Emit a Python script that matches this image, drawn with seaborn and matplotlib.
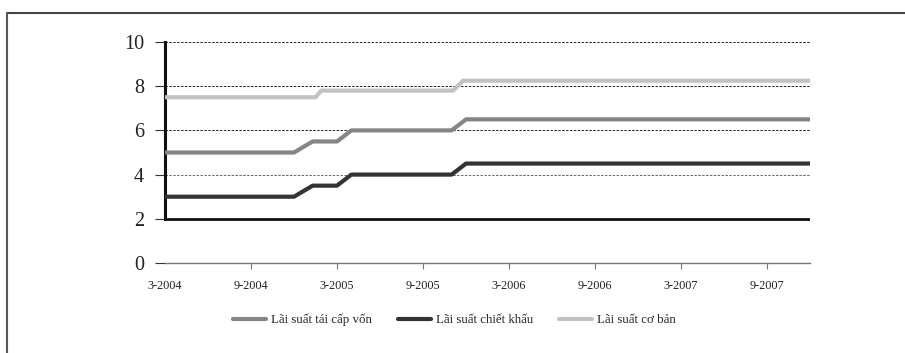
import matplotlib
matplotlib.use("Agg")
import matplotlib.pyplot as plt
from matplotlib.lines import Line2D
import pandas as pd
import seaborn as sns

# Months counted from 3-2004; breakpoints of each policy rate (%)
refi_month = [0, 9, 10.3, 12, 13, 20, 21, 45]
refi_rate = [5.0, 5.0, 5.5, 5.5, 6.0, 6.0, 6.5, 6.5]

disc_month = [0, 9, 10.3, 12, 13, 20, 21, 45]
disc_rate = [3.0, 3.0, 3.5, 3.5, 4.0, 4.0, 4.5, 4.5]

base_month = [0, 10.5, 10.9, 20.1, 20.8, 45]
base_rate = [7.5, 7.5, 7.8, 7.8, 8.25, 8.25]

series_names = ["Lãi suất tái cấp vốn", "Lãi suất chiết khấu", "Lãi suất cơ bản"]
series_colors = ["#858585", "#333333", "#c2c2c2"]

tick_months = [0, 6, 12, 18, 24, 30, 36, 42]
tick_labels = ["3-2004", "9-2004", "3-2005", "9-2005", "3-2006", "9-2006", "3-2007", "9-2007"]
y_ticks = [0, 2, 4, 6, 8, 10]

frames = []
for name, m, r in zip(series_names,
                      [refi_month, disc_month, base_month],
                      [refi_rate, disc_rate, base_rate]):
    frames.append(pd.DataFrame({"month": m, "rate": r, "series": name}))
df = pd.concat(frames, ignore_index=True)

sns.set_theme(style="white")
plt.rcParams["font.family"] = ["Liberation Serif", "DejaVu Serif"]

fig = plt.figure(figsize=(9.05, 3.53), dpi=100)
ax = fig.add_axes([165 / 905, 1 - 263 / 353, 645 / 905, 221 / 353])

# dashed gridlines and the heavy baseline at 2
for yv, gc in zip([4, 6, 8, 10], ["#666666", "#222222", "#222222", "#222222"]):
    ax.axhline(yv, color=gc, lw=0.7, ls=(0, (2.5, 1.5)), zorder=1)
ax.axhline(2, color="#111111", lw=2.0, zorder=2)

sns.lineplot(data=df, x="month", y="rate", hue="series", hue_order=series_names,
             palette=series_colors, estimator=None, sort=True, lw=3.0,
             legend=False, ax=ax, zorder=3)

ax.set_xlim(0, 45)
ax.set_ylim(0, 10)
ax.set_xlabel("")
ax.set_ylabel("")

for s in ["top", "right"]:
    ax.spines[s].set_visible(False)
ax.spines["left"].set_bounds(2, 10)
ax.spines["left"].set_color("#111111")
ax.spines["left"].set_linewidth(2.2)
ax.spines["bottom"].set_color("#777777")
ax.spines["bottom"].set_linewidth(1.0)

ax.set_yticks(y_ticks)
ax.set_yticklabels([str(v) for v in y_ticks], fontsize=14.5, color="#222222")
ax.tick_params(axis="y", length=7, width=0.8, color="#333333", pad=8, left=True)

ax.set_xticks(tick_months)
ax.set_xticklabels(tick_labels, fontsize=8.8, color="#222222")
ax.tick_params(axis="x", length=4, width=0.8, color="#777777", pad=8, bottom=True)
ax.xaxis.get_major_ticks()[0].tick1line.set_visible(False)

handles = [Line2D([0], [0], color=c, lw=3.0) for c in series_colors]
fig.legend(handles, series_names, loc="center", bbox_to_anchor=(0.502, 0.093),
           ncol=3, frameon=False, fontsize=9.3, handlelength=2.6,
           handletextpad=0.35, columnspacing=2.0)

# outer frame (top and left edges)
fig.add_artist(Line2D([7 / 905, 1.0], [1 - 13 / 353, 1 - 13 / 353],
                      transform=fig.transFigure, color="#444444", lw=1.5))
fig.add_artist(Line2D([7 / 905, 7 / 905], [0.0, 1 - 13 / 353],
                      transform=fig.transFigure, color="#555555", lw=1.5))

fig.savefig("out.png", dpi=100)
